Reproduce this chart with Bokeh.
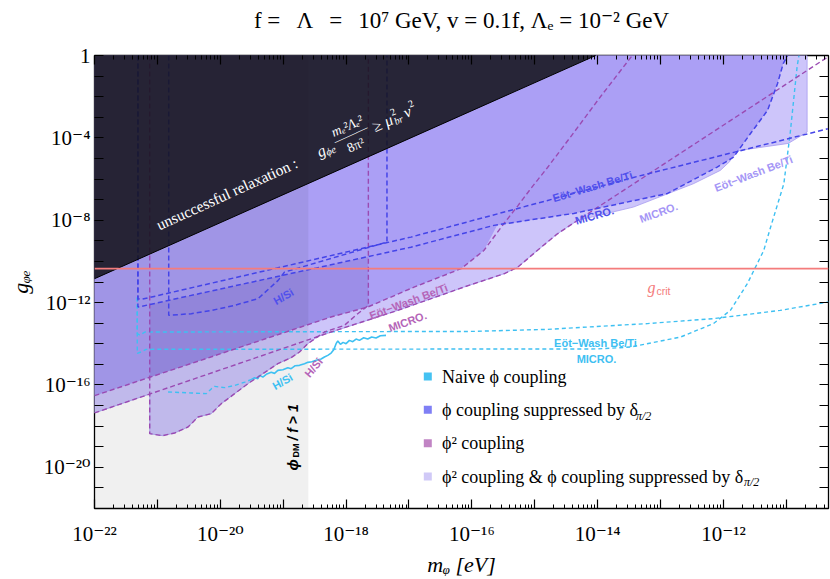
import numpy as np
from bokeh.plotting import figure
from bokeh.models import (Range1d, LogAxis, FixedTicker, CustomJSTickFormatter,
                          Label, Span, BoxAnnotation)
from bokeh.embed import file_html
from bokeh.resources import INLINE

# ---------------- chart values (log10 of m_phi [eV] and of g_phi_e) ----------------
X_LOG_MIN, X_LOG_MAX = -22.0, -10.33
Y_LOG_MIN, Y_LOG_MAX = -22.0, 0.0
x_tick_exponents = list(range(-22, -10))
y_tick_exponents = list(range(-22, 1))
x_label_every = 2
y_label_every = 4

g_crit_log = -10.35
phi_dm_limit_log_m = -18.6

# unsuccessful relaxation boundary
relax_log_m = [-22.0, -14.03]
relax_log_g = [-10.84, 0.0]

# naive phi coupling (cyan)
naive_ew_log_m = [-21.32, -21.32, -21.28, -21.20, -16.0, -14.80, -13.21, -12.16, -11.10, -10.33]
naive_ew_log_g = [-11.75, -13.50, -13.58, -13.43, -13.40, -13.30, -13.02, -12.78, -12.38, -11.97]
naive_micro_log_m = [-21.32, -21.32, -21.26, -21.18, -14.0, -13.48, -12.68, -12.16, -11.89,
                     -11.62, -11.36, -11.25, -11.04, -10.94, -10.83, -10.80]
naive_micro_log_g = [-11.75, -14.47, -14.40, -14.27, -14.25, -14.16, -13.67, -13.02, -12.38,
                     -11.08, -9.47, -8.33, -6.23, -3.80, -0.57, 0.0]
naive_hsi_dash_log_m = [-20.83, -20.46, -20.22, -20.14, -20.09, -19.93, -19.77, -19.61, -19.51]
naive_hsi_dash_log_g = [-16.34, -16.39, -16.42, -16.18, -16.07, -16.13, -16.02, -15.86, -15.74]
naive_hsi_log_m = [-19.508, -19.455, -19.402, -19.376, -19.323, -19.270, -19.190, -19.138, -19.085,
                   -19.005, -18.926, -18.873, -18.809, -18.741, -18.661, -18.608, -18.545, -18.476,
                   -18.397, -18.344, -18.291, -18.238, -18.196, -18.159, -18.132, -18.090, -18.048,
                   -18.000, -17.947, -17.894, -17.841, -17.788, -17.720, -17.656, -17.593, -17.524,
                   -17.455, -17.365]
naive_hsi_log_g = [-15.744, -15.647, -15.696, -15.534, -15.615, -15.485, -15.388, -15.437, -15.291,
                   -15.259, -15.161, -15.210, -15.064, -15.048, -14.967, -14.903, -14.870, -14.805,
                   -14.741, -14.644, -14.563, -14.450, -14.288, -13.996, -13.867, -14.029, -13.932,
                   -13.996, -13.835, -13.899, -13.770, -13.835, -13.705, -13.770, -13.673, -13.721,
                   -13.608, -13.592]

# phi coupling suppressed by delta_{pi/2} (blue)
supp_ew_log_m = [-21.31, -21.31, -21.25, -16.97, -13.43, -10.34]
supp_ew_log_g = [0.0, -11.81, -11.84, -8.82, -5.92, -3.56]
supp_micro_log_m = [-21.31, -21.31, -16.97, -15.65, -14.38, -12.89, -12.10, -11.84, -11.57,
                    -11.30, -11.14, -11.05, -10.98]
supp_micro_log_g = [0.0, -12.22, -9.31, -8.25, -7.67, -6.70, -5.42, -4.94, -3.79,
                    -2.67, -1.36, -0.39, 0.0]
supp_hsi_log_m = [-20.82, -20.82, -20.46, -20.14, -19.78, -19.40, -19.08, -18.98, -17.35, -17.35]
supp_hsi_log_g = [0.0, -12.62, -12.54, -12.38, -12.14, -11.81, -10.92, -10.52, -9.06, 0.0]

# phi^2 coupling (purple)
quad_ew_log_m = [-22.0, -18.24, -17.66, -16.92, -16.17, -15.81, -15.49, -15.27, -15.06,
                 -14.80, -14.43, -13.95, -13.45]
quad_ew_log_g = [-16.52, -12.70, -12.22, -11.25, -10.35, -9.47, -8.16, -7.30, -6.45,
                 -5.45, -3.95, -1.98, 0.0]
quad_micro_log_m = [-22.0, -18.24, -17.18, -16.13, -15.49, -15.27, -14.96, -14.64, -14.32, -10.33]
quad_micro_log_g = [-17.36, -13.43, -12.38, -11.25, -10.60, -10.28, -9.47, -8.66, -8.01, -0.05]
quad_hsi_log_m = [-21.122, -21.122, -20.921, -20.725, -20.513, -20.354, -20.143, -19.984, -19.772,
                  -19.561, -19.402, -19.243, -19.085, -18.873, -18.741, -18.608, -18.344, -18.026,
                  -17.815, -17.646, -17.646]
quad_hsi_log_g = [0.0, -18.365, -18.463, -18.333, -18.042, -17.556, -17.394, -16.909, -16.424,
                  -15.938, -15.615, -15.291, -14.967, -14.676, -14.401, -13.996, -13.430, -13.106,
                  -12.540, -12.136, 0.0]

# combined (phi^2 & suppressed phi) excluded-region edge
union_edge_log_m = [-22.0, -21.122, -21.122, -20.921, -20.725, -20.513, -20.354, -20.143, -19.984,
                    -19.772, -19.561, -19.402, -19.243, -19.085, -18.873, -18.741, -18.608, -18.45,
                    -17.18, -16.13, -15.49, -15.27, -14.96, -14.64, -14.32, -13.43, -12.48, -12.05,
                    -11.90, -11.84, -10.97, -10.67, -10.67]
union_edge_log_g = [-17.36, -16.44, -18.365, -18.463, -18.333, -18.042, -17.556, -17.394, -16.909,
                    -16.424, -15.938, -15.615, -15.291, -14.967, -14.676, -14.401, -13.996, -13.65,
                    -12.38, -11.25, -10.60, -10.28, -9.47, -8.66, -8.01, -7.36, -6.23, -5.58,
                    -5.15, -4.65, -4.27, -3.72, 0.0]
# overlapping-exclusion edge (darker fill)
overlap_edge_log_m = [-22.0, -18.24, -17.66, -16.92, -16.17, -15.81, -15.60, -14.38, -12.89,
                      -12.10, -11.84, -11.57, -11.30, -11.14, -11.05, -10.98]
overlap_edge_log_g = [-16.52, -12.70, -12.22, -11.25, -10.35, -9.47, -8.25, -7.67, -6.70,
                      -5.42, -4.94, -3.79, -2.67, -1.36, -0.39, 0.0]

legend_labels = ["Naive \u03d5 coupling",
                 "\u03d5 coupling suppressed by \u03b4",
                 "\u03d5\u00b2 coupling",
                 "\u03d5\u00b2 coupling & \u03d5 coupling suppressed by \u03b4"]
legend_colors = ["#45c2f2", "#7f7ff5", "#c184c4", "#d0c9f7"]

title_text = ("f =\u2002\u2009\u039b\u2002\u2009=\u2002\u200910\u2077 GeV, v = 0.1f, "
              "\u039b\u2091 = 10\u207b\u00b2 GeV")
x_title = "m\u1d69 [eV]"
y_title = "g\u1d69\u2091"


def ex(a):
    return 10.0 ** np.asarray(a, dtype=float)


# ---------------- figure ----------------
p = figure(width=830, height=579, x_axis_type="log", y_axis_type="log",
           x_range=Range1d(10 ** X_LOG_MIN, 10 ** X_LOG_MAX),
           y_range=Range1d(10 ** Y_LOG_MIN, 10 ** Y_LOG_MAX),
           output_backend="svg", toolbar_location=None,
           min_border_left=94, min_border_right=2, min_border_top=55, min_border_bottom=71)
p.grid.visible = False
p.outline_line_color = "black"
p.outline_line_width = 1.3
p.background_fill_color = "white"
p.border_fill_color = "white"
p.title.text = ""

TICK_FONT = "Liberation Serif, DejaVu Serif"

x_ticker = FixedTicker(ticks=[10.0 ** k for k in x_tick_exponents],
                       minor_ticks=[j * 10.0 ** k for k in x_tick_exponents for j in range(2, 10)])
y_ticker = FixedTicker(ticks=[10.0 ** k for k in y_tick_exponents], minor_ticks=[])

SUP_JS = """
const sup = {"-": "\u207b", "0": "\u2070", "1": "\u00b9", "2": "\u00b2", "3": "\u00b3",
             "4": "\u2074", "5": "\u2075", "6": "\u2076", "7": "\u2077", "8": "\u2078", "9": "\u2079"};
const e = Math.round(Math.log10(tick));
if (e % every !== 0) { return ""; }
if (e === 0) { return "1"; }
return "10" + String(e).split("").map(c => sup[c]).join("");
"""
x_fmt = CustomJSTickFormatter(code=SUP_JS, args=dict(every=x_label_every))
y_fmt = CustomJSTickFormatter(code=SUP_JS, args=dict(every=y_label_every))
blank = CustomJSTickFormatter(code="return '';")


def style_axis(ax):
    ax.axis_line_color = None
    ax.major_tick_in = 9
    ax.major_tick_out = 0
    ax.minor_tick_in = 4
    ax.minor_tick_out = 0
    ax.major_tick_line_color = "black"
    ax.minor_tick_line_color = "black"
    ax.major_tick_line_width = 1.2
    ax.minor_tick_line_width = 1
    ax.major_label_text_font = TICK_FONT
    ax.major_label_text_color = "black"
    ax.axis_label_text_font = TICK_FONT
    ax.axis_label_text_color = "black"


for ax in p.xaxis:
    ax.ticker = x_ticker
    ax.formatter = x_fmt
    style_axis(ax)
    ax.major_label_text_font_size = "21px"
    ax.major_label_standoff = 13
    ax.axis_label = x_title
    ax.axis_label_text_font_size = "22px"
    ax.axis_label_text_font_style = "italic"
    ax.axis_label_standoff = 3
for ax in p.yaxis:
    ax.ticker = y_ticker
    ax.formatter = y_fmt
    style_axis(ax)
    ax.major_label_text_font_size = "21px"
    ax.major_label_standoff = 4
    ax.axis_label = y_title
    ax.axis_label_text_font_size = "22px"
    ax.axis_label_text_font_style = "italic"
    ax.axis_label_standoff = 8

top_ax = LogAxis(ticker=x_ticker, formatter=blank)
style_axis(top_ax)
top_ax.major_label_text_font_size = "1px"
top_ax.major_label_standoff = 0
top_ax.axis_label = title_text
top_ax.axis_label_text_font_size = "23px"
top_ax.axis_label_text_font_style = "normal"
top_ax.axis_label_standoff = 23
p.add_layout(top_ax, "above")

right_ax = LogAxis(ticker=y_ticker, formatter=blank)
style_axis(right_ax)
right_ax.major_label_text_font_size = "1px"
right_ax.major_label_standoff = 0
p.add_layout(right_ax, "right")

# ---------------- fills ----------------
p.patch(ex(union_edge_log_m + [X_LOG_MIN]), ex(union_edge_log_g + [Y_LOG_MAX]),
        fill_color="#cdc5fa", line_color="#a99cf0", line_width=1, line_alpha=0.8)
p.patch(ex(overlap_edge_log_m + [X_LOG_MIN]), ex(overlap_edge_log_g + [Y_LOG_MAX]),
        fill_color="#ab9ff5", line_color=None)
dark_lo, dark_hi = quad_hsi_log_m[0], quad_hsi_log_m[-1]
dark_m = np.array([dark_lo] + [v for v in quad_ew_log_m if dark_lo < v < dark_hi] + [dark_hi])
dark_bottom = np.interp(dark_m, quad_ew_log_m, quad_ew_log_g)
dark_top = np.interp(dark_m[::-1], supp_micro_log_m[1:], supp_micro_log_g[1:])
p.patch(ex(np.concatenate([dark_m, dark_m[::-1]])), ex(np.concatenate([dark_bottom, dark_top])),
        fill_color="#9c8ee8", line_color=None)

# phi_DM / f > 1 region
p.quad(left=[10 ** X_LOG_MIN], right=[10 ** phi_dm_limit_log_m],
       bottom=[10 ** Y_LOG_MIN], top=[10 ** Y_LOG_MAX],
       fill_color="black", fill_alpha=0.058, line_color=None)

# ---------------- curves ----------------
cyan = "#3ec0f2"
blue = "#4444e8"
purple = "#9a4ab2"
p.line(ex(naive_ew_log_m), ex(naive_ew_log_g), line_color=cyan, line_width=1.4, line_dash="4 3")
p.line(ex(naive_micro_log_m), ex(naive_micro_log_g), line_color=cyan, line_width=1.4, line_dash="4 3")
p.line(ex(naive_hsi_dash_log_m), ex(naive_hsi_dash_log_g), line_color=cyan, line_width=1.4, line_dash="4 3")
p.line(ex(naive_hsi_log_m), ex(naive_hsi_log_g), line_color=cyan, line_width=1.6)

p.line(ex(quad_ew_log_m), ex(quad_ew_log_g), line_color=purple, line_width=1.4, line_dash="5 3")
p.line(ex(quad_micro_log_m), ex(quad_micro_log_g), line_color=purple, line_width=1.4, line_dash="5 3")
p.line(ex(quad_hsi_log_m), ex(quad_hsi_log_g), line_color=purple, line_width=1.4, line_dash="5 3")

p.line(ex(supp_ew_log_m), ex(supp_ew_log_g), line_color=blue, line_width=1.5, line_dash="5 3")
p.line(ex(supp_micro_log_m), ex(supp_micro_log_g), line_color=blue, line_width=1.5, line_dash="5 3")
p.line(ex(supp_hsi_log_m), ex(supp_hsi_log_g), line_color=blue, line_width=1.5, line_dash="5 3")

# unsuccessful relaxation region
p.patch(ex(relax_log_m + [X_LOG_MIN]), ex(relax_log_g + [Y_LOG_MAX]),
        fill_color="#14121a", fill_alpha=0.87, line_color="black", line_width=1)

p.add_layout(Span(location=10 ** g_crit_log, dimension="width", line_color="#f47c7c", line_width=1.6))

# ---------------- texts inside the frame ----------------
SERIF = "Liberation Serif"
SANS = "Liberation Sans"


def lab(text, x, y, size, color="black", font=SERIF, style="normal", angle=0.0,
        align="left", baseline="alphabetic"):
    p.add_layout(Label(x=x, y=y, x_units="screen", y_units="screen", text=text, angle=angle,
                       text_font=font, text_font_size=f"{size}px", text_font_style=style,
                       text_color=color, text_align=align, text_baseline=baseline))


# relaxation annotation (rotated along the boundary)
ang = 0.427
ox, oy = 62.7, 283.0


def rlab(text, s, d, size, style="normal", align="left", baseline="alphabetic"):
    x = ox + s * np.cos(ang) - d * np.sin(ang)
    y = oy + s * np.sin(ang) + d * np.cos(ang)
    lab(text, x, y, size, color="white", style=style, angle=ang, align=align, baseline=baseline)


rlab("unsuccessful relaxation :", 0, 0, 15.5)
rlab("g", 176, 0, 16, style="italic")
rlab("\u03d5e", 184, -4, 10.5, style="italic")
rlab("m\u2091\u00b2\u039b\u2091\u00b2", 214, 12, 13.5, style="italic", align="center", baseline="middle")
rlab("\u2014\u2014\u2014", 214, 3, 12, align="center", baseline="middle")
rlab("8\u03c0\u00b2", 214, -9, 13.5, align="center", baseline="middle")
rlab("\u2265", 237, 0, 16)
rlab("\u03bc", 250, 0, 16, style="italic")
rlab("2", 259, 6, 10)
rlab("br", 259, -4, 10, style="italic")
rlab("\u03bd", 271, 0, 16, style="italic")
rlab("2", 279, 6, 10)

# curve labels
lab("E\u00f6t\u2212Wash Be/Ti", 498, 322, 11, color="#5050ec", font=SANS, style="bold",
    angle=0.293, align="center", baseline="middle")
lab("MICRO.", 500, 293, 11, color="#5050ec", font=SANS, style="bold", angle=0.28,
    align="center", baseline="middle")
lab("E\u00f6t\u2212Wash Be/Ti", 659, 335, 11, color="#a596f6", font=SANS, style="bold",
    angle=0.366, align="center", baseline="middle")
lab("MICRO.", 564, 296, 11, color="#a596f6", font=SANS, style="bold", angle=0.35,
    align="center", baseline="middle")
lab("E\u00f6t\u2212Wash Be/Ti", 314, 207, 11, color="#b565b8", font=SANS, style="bold",
    angle=0.36, align="center", baseline="middle")
lab("MICRO.", 313, 187, 11, color="#b565b8", font=SANS, style="bold", angle=0.35,
    align="center", baseline="middle")
lab("E\u00f6t\u2212Wash Be/Ti", 501, 166, 11, color="#3ec0f2", font=SANS, style="bold",
    align="center", baseline="middle")
lab("MICRO.", 502, 150, 11, color="#3ec0f2", font=SANS, style="bold",
    align="center", baseline="middle")
lab("H/Si", 189, 212, 11, color="#5050ec", font=SANS, style="bold", angle=0.52,
    align="center", baseline="middle")
lab("H/Si", 188, 127, 11, color="#3ec0f2", font=SANS, style="bold", angle=0.52,
    align="center", baseline="middle")
lab("H/Si", 219, 141, 11, color="#b565b8", font=SANS, style="bold", angle=0.87,
    align="center", baseline="middle")

# g_crit
lab("g", 553, 221, 16, color="#f47c7c", style="italic")
lab("crit", 562, 218, 10.5, color="#f47c7c", font=SANS)

# phi_DM / f > 1
lab("\u03d5", 198, 38, 15, font=SANS, style="bold italic", angle=np.pi / 2)
lab("DM", 201, 51, 9, font=SANS, style="bold", angle=np.pi / 2)
lab("/ f > 1", 198, 68, 14, font=SANS, style="bold italic", angle=np.pi / 2)

# legend
rows_y = [132, 98.7, 65.3, 32]
for txt, col, ry in zip(legend_labels, legend_colors, rows_y):
    p.add_layout(BoxAnnotation(left=329.3, right=337.3, bottom=ry - 4, top=ry + 4,
                               left_units="screen", right_units="screen",
                               top_units="screen", bottom_units="screen",
                               fill_color=col, fill_alpha=1, line_color=None))
    lab(txt, 347.5, ry, 18, baseline="middle")
lab("\u03c0/2", 541.5, 93, 12, style="italic", baseline="middle")
lab("\u03c0/2", 649.5, 26.5, 12, style="italic", baseline="middle")

open("out.html", "w").write(file_html(p, INLINE))
